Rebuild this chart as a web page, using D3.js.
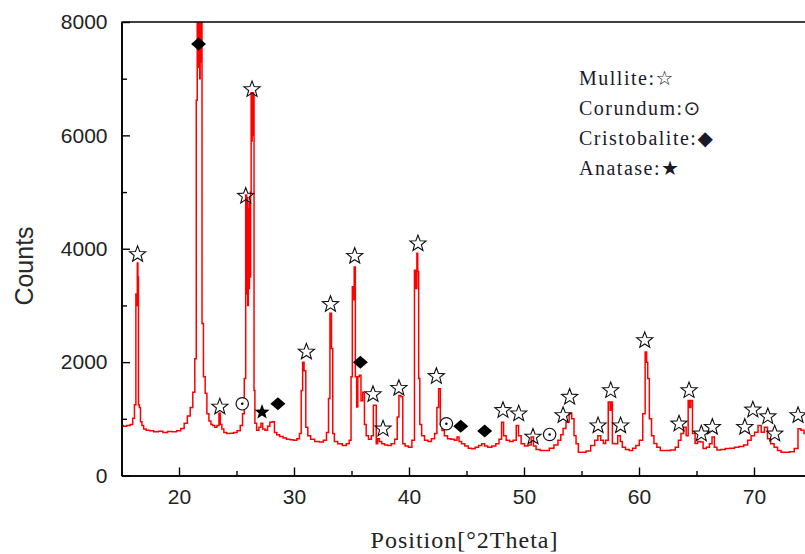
<!DOCTYPE html>
<html><head><meta charset="utf-8">
<script src="https://cdn.jsdelivr.net/npm/d3@7"></script>
<style>body{margin:0;background:#fff}svg{display:block}</style>
</head><body>
<svg id="c" width="805" height="554"></svg>
<script>
// ---- data ----
const twoTheta = [15.0,15.3,15.6,15.9,16.05,16.2,16.3,16.35,16.4,16.45,16.5,16.6,16.7,16.85,17.0,17.3,17.6,18.0,18.4,18.8,19.2,19.6,20.0,20.3,20.6,20.85,21.1,21.3,21.45,21.55,21.62,21.66,21.7,21.74,21.78,21.82,21.86,21.9,21.95,22.05,22.2,22.35,22.5,22.7,22.85,23.0,23.2,23.4,23.55,23.65,23.8,24.0,24.3,24.6,24.9,25.2,25.45,25.6,25.75,25.85,25.9,25.95,26.0,26.05,26.1,26.15,26.2,26.25,26.3,26.34,26.38,26.42,26.46,26.5,26.55,26.65,26.85,27.05,27.2,27.35,27.6,27.8,28.0,28.2,28.4,28.6,28.9,29.2,29.5,29.8,30.1,30.4,30.55,30.7,30.8,30.95,31.1,31.3,31.6,32.0,32.4,32.7,32.95,33.05,33.2,33.32,33.42,33.6,34.0,34.4,34.7,34.9,35.02,35.12,35.2,35.27,35.4,35.5,35.6,35.75,35.9,36.05,36.2,36.35,36.6,36.85,36.95,37.1,37.2,37.35,37.5,37.75,38.0,38.3,38.6,38.9,39.05,39.2,39.4,39.52,39.8,40.1,40.4,40.55,40.65,40.72,40.8,40.88,41.0,41.2,41.5,41.8,42.1,42.35,42.5,42.65,42.8,42.95,43.2,43.5,43.8,44.1,44.25,44.45,44.7,45.0,45.3,45.6,45.9,46.2,46.45,46.7,47.0,47.4,47.7,47.95,48.15,48.3,48.6,48.9,49.2,49.45,49.6,49.9,50.2,50.5,50.75,50.9,51.2,51.6,52.0,52.4,52.8,53.1,53.3,53.5,53.8,54.05,54.25,54.45,54.6,54.85,55.2,55.6,56.0,56.3,56.55,56.8,57.0,57.2,57.45,57.52,57.62,57.75,58.0,58.3,58.45,58.65,59.0,59.3,59.6,59.85,60.2,60.45,60.62,60.7,60.82,60.98,61.2,61.4,61.7,62.0,62.5,63.0,63.3,63.55,63.75,64.0,64.2,64.35,64.45,64.55,64.75,65.0,65.2,65.45,65.7,66.0,66.25,66.45,66.65,66.9,67.3,67.7,68.1,68.5,68.9,69.3,69.6,69.9,70.2,70.5,70.75,71.05,71.3,71.6,71.9,72.2,72.5,72.9,73.3,73.7,73.95,74.2,74.5,75.0];
const counts = [880,870,880,900,1010,1250,3200,3000,3750,3500,1250,1200,950,880,820,800,790,770,780,760,775,770,790,830,920,1050,1200,1470,2060,6620,8500,7200,8500,7400,8500,7000,8500,7300,8500,2680,1740,1450,1090,960,900,880,850,880,1100,900,820,760,740,745,760,790,880,1090,1710,4950,3200,4900,3000,4700,3300,4800,3500,5000,6750,5900,6750,6000,6750,6700,1500,920,800,850,920,820,800,870,940,950,760,720,690,660,640,630,620,650,740,1500,2000,1850,850,700,640,600,590,620,760,1360,2860,2240,740,600,560,530,560,620,1740,3330,3100,3680,1740,1210,1740,1770,1320,1470,900,700,640,700,1240,1240,560,650,600,560,540,530,560,640,1030,1410,1390,560,520,500,620,3620,3300,3920,3600,1710,900,700,620,600,650,740,1200,1530,900,795,700,650,640,620,680,600,560,520,480,470,500,530,560,520,500,520,560,640,940,700,620,600,620,880,700,560,520,540,680,520,460,440,440,480,540,620,720,830,940,1090,1000,700,560,410,410,430,530,620,700,620,565,620,1295,1150,1295,565,560,700,600,500,460,440,480,530,620,1090,2180,2000,1710,1000,700,565,500,440,440,450,500,620,740,850,700,1325,1200,1325,740,565,600,590,477,500,560,680,500,450,460,477,480,500,510,540,620,700,765,880,765,850,650,560,500,440,410,410,420,477,825,800,740,720];

const mullite = [[16.4,3900],[23.55,1210],[25.8,4930],[26.35,6810],[31.08,2180],[33.17,3020],[35.28,3870],[36.87,1430],[37.74,825],[39.12,1540],[40.78,4090],[42.38,1750],[48.17,1150],[49.54,1090],[50.78,680],[53.4,1060],[53.97,1385],[56.44,880],[57.54,1500],[58.4,880],[60.5,2384],[63.48,913],[64.35,1500],[65.42,736],[66.38,853],[69.2,853],[69.9,1160],[71.2,1040],[71.8,736],[73.83,1060]];
const corundum = [[25.5,1265],[43.25,913],[52.23,724]];
const cristobalite = [[21.7,7611],[28.6,1265],[35.77,2000],[44.5,870],[46.58,783]];
const anatase = [[27.22,1118]];

const xMajor = [20,30,40,50,60,70];
const xMinor = [25,35,45,55,65,75];
const yMajor = [0,2000,4000,6000,8000];
const yMinor = [1000,3000,5000,7000];
const legendLines = ["Mullite:\u2606","Corundum:\u2299","Cristobalite:\u25C6","Anatase:\u2605"];

// ---- drawing ----
const svg = d3.select("#c");
const L = 121.5, R = 811.5, T = 22, B = 475.5;
const x = d3.scaleLinear().domain([15,75]).range([L,R]);
const y = d3.scaleLinear().domain([0,8000]).range([B,T]);

svg.append("clipPath").attr("id","clip").append("rect")
  .attr("x",L).attr("y",T).attr("width",R-L).attr("height",B-T);

const pts = twoTheta.map((t,i)=>[t,counts[i]]);
svg.append("path").datum(pts)
  .attr("clip-path","url(#clip)")
  .attr("fill","none").attr("stroke","#ff0000").attr("stroke-width",1.5)
  .attr("d", d3.line().x(d=>x(d[0])).y(d=>y(d[1])).curve(d3.curveStep));

// axes
const axisFont = "Liberation Sans, Arial, sans-serif";
function styleAxis(g){
  g.selectAll(".domain").attr("stroke","#000").attr("stroke-width",1.6);
  g.selectAll(".tick line").attr("stroke","#000").attr("stroke-width",1.4);
  g.selectAll("text").attr("font-family",axisFont).attr("font-size",21).attr("fill","#222");
}
const gxMinor = svg.append("g").attr("transform",`translate(0,${B})`)
  .call(d3.axisBottom(x).tickValues(xMinor).tickSize(-4.5).tickSizeOuter(0).tickFormat(""));
styleAxis(gxMinor);
const gx = svg.append("g").attr("transform",`translate(0,${B})`)
  .call(d3.axisBottom(x).tickValues(xMajor).tickSize(-8).tickSizeOuter(0).tickPadding(14));
styleAxis(gx);
const gyMinor = svg.append("g").attr("transform",`translate(${L},0)`)
  .call(d3.axisLeft(y).tickValues(yMinor).tickSize(-5.5).tickSizeOuter(0).tickFormat(""));
styleAxis(gyMinor);
const gy = svg.append("g").attr("transform",`translate(${L},0)`)
  .call(d3.axisLeft(y).tickValues(yMajor).tickSize(-8.5).tickSizeOuter(0).tickPadding(14).tickFormat(d3.format("d")));
styleAxis(gy);
svg.append("line").attr("x1",L).attr("x2",R).attr("y1",T).attr("y2",T)
  .attr("stroke","#000").attr("stroke-width",1.6);

// axis titles
svg.append("text").attr("transform","translate(33,266) rotate(-90)")
  .attr("text-anchor","middle").attr("font-family",axisFont).attr("font-size",25)
  .attr("fill","#2a2a2a").text("Counts");
svg.append("text").attr("x",(372+557)/2).attr("y",548).attr("text-anchor","middle")
  .attr("font-family","Liberation Serif, Times New Roman, serif").attr("font-size",24)
  .attr("letter-spacing",1).attr("fill","#222").text("Position[\u00B02Theta]");

// markers
const starPath = (r, inner) => {
  const p=[]; for(let i=0;i<10;i++){const a=-Math.PI/2+i*Math.PI/5; const rr=i%2?r*inner:r; p.push([rr*Math.cos(a), rr*Math.sin(a)]);}
  return "M"+p.map(q=>q.join(",")).join("L")+"Z";
};
const mk = svg.append("g");
mk.selectAll(".mul").data(mullite).join("path")
  .attr("transform",d=>`translate(${x(d[0])},${y(d[1])})`)
  .attr("d",starPath(8.5,0.42)).attr("fill","none").attr("stroke","#111").attr("stroke-width",1.1);
mk.selectAll(".cor").data(corundum).join("g")
  .attr("transform",d=>`translate(${x(d[0])},${y(d[1])})`)
  .each(function(){
    const g=d3.select(this);
    g.append("circle").attr("r",6.2).attr("fill","#fff").attr("stroke","#111").attr("stroke-width",1.2);
    g.append("circle").attr("r",1.3).attr("fill","#111");
  });
mk.selectAll(".cri").data(cristobalite).join("path")
  .attr("transform",d=>`translate(${x(d[0])},${y(d[1])})`)
  .attr("d","M-7.5,0L0,-6.5L7.5,0L0,6.5Z").attr("fill","#000");
mk.selectAll(".ana").data(anatase).join("path")
  .attr("transform",d=>`translate(${x(d[0])},${y(d[1])})`)
  .attr("d",starPath(8,0.42)).attr("fill","#000");

// legend
svg.append("g").selectAll("text").data(legendLines).join("text")
  .attr("x",579).attr("y",(d,i)=>85+i*30)
  .attr("font-family","Liberation Serif, Times New Roman, DejaVu Sans, serif")
  .attr("font-size",20).attr("letter-spacing",1.5).attr("fill","#1a1a2a").text(d=>d);
</script>
</body></html>
